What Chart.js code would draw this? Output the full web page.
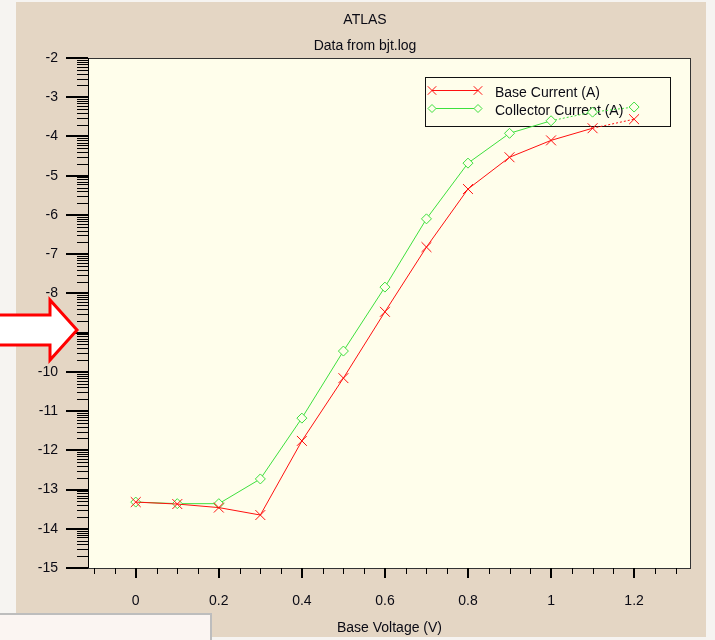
<!DOCTYPE html>
<html>
<head>
<meta charset="utf-8">
<script src="https://cdn.jsdelivr.net/npm/chart.js@4/dist/chart.umd.min.js"></script>
<style>
  body { margin: 0; background: #f6f4f1; }
  canvas { display: block; }
</style>
</head>
<body>
<canvas id="chart" width="715" height="640"></canvas>
<script>
// Base voltage sweep (V)
const voltage = [0, 0.1, 0.2, 0.3, 0.4, 0.5, 0.6, 0.7, 0.8, 0.9, 1.0, 1.1, 1.2];
// log10 of the currents (A)
const baseCurrent = [-13.32, -13.37, -13.46, -13.65, -11.76, -10.16, -8.47, -6.82, -5.34, -4.53, -4.10, -3.79, -3.56];
const collectorCurrent = [-13.32, -13.36, -13.36, -12.73, -11.18, -9.47, -7.84, -6.10, -4.68, -3.92, -3.60, -3.38, -3.25];

const xTickValues = [0, 0.2, 0.4, 0.6, 0.8, 1.0, 1.2];
const xTickLabels = ['0', '0.2', '0.4', '0.6', '0.8', '1', '1.2'];
const yTickValues = [-15, -14, -13, -12, -11, -10, -9, -8, -7, -6, -5, -4, -3, -2];
const yTickLabels = ['-15', '-14', '-13', '-12', '-11', '-10', '-9', '-8', '-7', '-6', '-5', '-4', '-3', '-2'];

const FONT = '"Liberation Sans", Arial, sans-serif';
const RED = '#ff1010';
const GREEN = '#3ee03e';
const CREAM = '#fffeeb';

Chart.defaults.font.family = FONT;
Chart.defaults.font.size = 14;
Chart.defaults.color = '#0a0a14';

function line(ctx, x1, y1, x2, y2) {
  ctx.beginPath();
  ctx.moveTo(x1, y1);
  ctx.lineTo(x2, y2);
  ctx.stroke();
}

const decor = {
  id: 'decor',
  beforeDraw(chart) {
    const ctx = chart.ctx, a = chart.chartArea;
    ctx.save();
    ctx.fillStyle = '#f6f4f1';
    ctx.fillRect(0, 0, 715, 640);
    ctx.fillStyle = '#e4d6c4';
    ctx.fillRect(16, 2, 690, 635);
    ctx.fillStyle = CREAM;
    ctx.fillRect(a.left, a.top, a.right - a.left, a.bottom - a.top);
    ctx.restore();
  },
  beforeDatasetsDraw(chart) {
    // legend box
    const ctx = chart.ctx;
    ctx.save();
    ctx.strokeStyle = '#111';
    ctx.lineWidth = 1;
    ctx.strokeRect(425.5, 77.5, 245, 49);
    const rows = [90, 108];
    chart.data.datasets.forEach((ds, i) => {
      const y = rows[i];
      ctx.strokeStyle = ds.borderColor;
      ctx.lineWidth = 1;
      line(ctx, 432, y + 0.5, 478, y + 0.5);
      [432, 478].forEach(x => {
        ctx.fillStyle = CREAM;
        ctx.strokeStyle = ds.borderColor;
        Chart.helpers.drawPoint(ctx, {
          pointStyle: ds.pointStyle, radius: ds.pointRadius - 1, borderWidth: 1
        }, x, y + 0.5);
      });
      ctx.fillStyle = '#0a0a14';
      ctx.font = '14px ' + FONT;
      ctx.textBaseline = 'middle';
      ctx.fillText(ds.label, 495, y + 3);
    });
    ctx.restore();
  },
  afterDraw(chart) {
    const ctx = chart.ctx, a = chart.chartArea;
    const xs = chart.scales.x, ys = chart.scales.y;
    ctx.save();
    // frame
    ctx.strokeStyle = '#333';
    ctx.lineWidth = 1;
    ctx.strokeRect(a.left + 0.5, a.top + 0.5, a.right - a.left - 1, a.bottom - a.top);
    ctx.strokeStyle = '#000';
    line(ctx, a.left + 0.5, a.top, a.left + 0.5, a.bottom);
    // y ticks
    ctx.lineWidth = 2;
    yTickValues.forEach(v => {
      const py = Math.round(ys.getPixelForValue(v));
      line(ctx, a.left - 22, py, a.left, py);
    });
    ctx.lineWidth = 1;
    for (let n = -15; n < -2; n++) {
      for (let k = 2; k <= 9; k++) {
        const py = Math.round(ys.getPixelForValue(n + Math.log10(k))) + 0.5;
        line(ctx, a.left - 11, py, a.left, py);
      }
    }
    // x ticks
    ctx.lineWidth = 2;
    xTickValues.forEach(v => {
      const px = Math.round(xs.getPixelForValue(v));
      line(ctx, px, a.bottom, px, a.bottom + 10);
    });
    ctx.lineWidth = 1;
    for (let i = -2; i <= 26; i++) {
      if (i % 4 === 0) continue;
      const px = Math.round(xs.getPixelForValue(i * 0.05)) + 0.5;
      line(ctx, px, a.bottom, px, a.bottom + 6);
    }
    // titles
    ctx.fillStyle = '#0a0a14';
    ctx.font = '14px ' + FONT;
    ctx.textAlign = 'center';
    ctx.textBaseline = 'alphabetic';
    ctx.fillText('ATLAS', 365, 24);
    ctx.fillText('Data from bjt.log', 365, 50);
    // arrow
    ctx.beginPath();
    ctx.moveTo(-5, 315);
    ctx.lineTo(50, 315);
    ctx.lineTo(50, 300);
    ctx.lineTo(77, 330);
    ctx.lineTo(50, 360);
    ctx.lineTo(50, 345);
    ctx.lineTo(-5, 345);
    ctx.closePath();
    ctx.fillStyle = '#fff';
    ctx.fill();
    ctx.strokeStyle = '#ff0000';
    ctx.lineWidth = 3;
    ctx.lineJoin = 'miter';
    ctx.stroke();
    // bottom-left panel
    ctx.fillStyle = '#fbf5f2';
    ctx.fillRect(-2, 614, 214, 30);
    ctx.strokeStyle = '#bdbdbd';
    ctx.lineWidth = 2;
    ctx.strokeRect(-2, 614, 213, 30);
    ctx.restore();
  }
};

const dashAfter = (n) => (c) => c.p0DataIndex >= n ? [2, 2] : undefined;

new Chart(document.getElementById('chart'), {
  type: 'line',
  data: {
    datasets: [{
      label: 'Base Current (A)',
      data: voltage.map((v, i) => ({ x: v, y: baseCurrent[i] })),
      borderColor: RED,
      borderWidth: 1,
      pointStyle: 'crossRot',
      pointRadius: 7,
      pointBorderColor: RED,
      pointBorderWidth: 1,
      segment: { borderDash: dashAfter(11) }
    }, {
      label: 'Collector Current (A)',
      data: voltage.map((v, i) => ({ x: v, y: collectorCurrent[i] })),
      borderColor: GREEN,
      borderWidth: 1,
      pointStyle: 'rectRot',
      pointRadius: 5,
      pointBorderColor: GREEN,
      pointBackgroundColor: CREAM,
      pointBorderWidth: 1,
      segment: { borderDash: dashAfter(10) }
    }]
  },
  options: {
    responsive: false,
    animation: false,
    layout: { padding: { left: 0, right: 24, top: 58, bottom: 0 } },
    plugins: {
      legend: { display: false },
      tooltip: { enabled: false }
    },
    scales: {
      x: {
        type: 'linear',
        min: -0.115,
        max: 1.337,
        grid: { display: false },
        border: { display: false },
        afterBuildTicks: s => { s.ticks = xTickValues.map(v => ({ value: v })); },
        afterFit: s => { s.height = 72; },
        ticks: {
          padding: 17,
          maxRotation: 0,
          callback: (v, i) => xTickLabels[i]
        },
        title: {
          display: true,
          text: 'Base Voltage (V)',
          padding: { top: 0, bottom: 3 },
          font: { size: 14 }
        }
      },
      y: {
        type: 'linear',
        min: -15,
        max: -2,
        grid: { display: false },
        border: { display: false },
        afterBuildTicks: s => { s.ticks = yTickValues.map(v => ({ value: v })); },
        afterFit: s => { s.width = 88; },
        ticks: {
          padding: 22,
          callback: (v, i) => yTickLabels[i]
        }
      }
    }
  },
  plugins: [decor]
});
</script>
</body>
</html>
